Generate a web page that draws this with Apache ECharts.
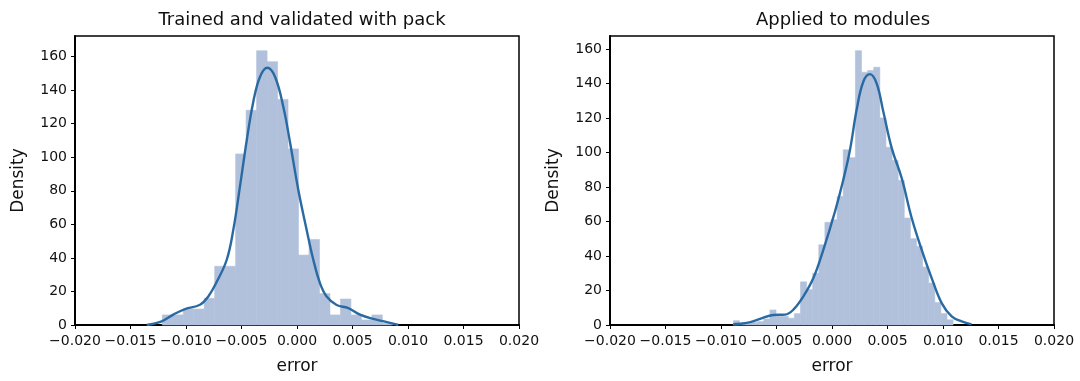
<!DOCTYPE html>
<html>
<head>
<meta charset="utf-8">
<script src="https://cdn.jsdelivr.net/npm/echarts@6/dist/echarts.min.js"></script>
<style>
html,body{margin:0;padding:0;background:#fff;}
#chart{width:1080px;height:381px;}
</style>
</head>
<body>
<div id="chart"></div>
<script>
// ---- Data ----
var titles = ['Trained and validated with pack', 'Applied to modules'];
var xTicks = [-0.020, -0.015, -0.010, -0.005, 0.000, 0.005, 0.010, 0.015, 0.020];

// Left panel histogram (bin start, bin width, densities)
var leftBinStart = -0.012135;
var leftBinWidth = 0.000944;
var leftDensity = [6, 6, 9.5, 9.5, 15.9, 35, 35, 102, 128, 163.5, 157, 134.5, 105, 41.7, 51, 18.7, 6, 15.5, 6, 3, 6, 1];

// Left panel KDE curve points [x, density]
var leftKdeX = [-0.01354, -0.01219, -0.01114, -0.01009, -0.00874, -0.00799, -0.00724, -0.00633, -0.00574, -0.00514, -0.00453, -0.00394, -0.00333, -0.00268, -0.00198, -0.00123, -0.00063, 0.00012, 0.00087, 0.00147, 0.00207, 0.00267, 0.00357, 0.00462, 0.00568, 0.00687, 0.00793, 0.00913];
var leftKdeY = [0, 2.2, 6.2, 9.5, 12.1, 17, 25.6, 38.9, 56.7, 82.5, 110, 133, 148, 153.4, 148, 130, 109, 80.5, 56.7, 38.9, 25, 17, 11.9, 10.1, 6.2, 3.6, 2, 0];

// Right panel histogram
var rightBinStart = -0.00889;
var rightBinWidth = 0.00055;
var rightDensity = [2.5, 0.5, 1, 1.5, 2, 3.5, 8.7, 5, 5, 3.9, 6.6, 25, 20.5, 30, 46.5, 59.5, 61, 74.5, 101.5, 97, 159, 146.5, 147.5, 149.4, 120, 103, 95.4, 83.8, 62, 50, 45.6, 33.6, 24.3, 13, 6.6, 3];

// Right panel KDE curve points
var rightKdeX = [-0.00889, -0.00769, -0.00649, -0.00529, -0.00423, -0.00348, -0.00258, -0.00168, -0.00078, 0.00027, 0.00102, 0.00162, 0.00222, 0.00282, 0.00342, 0.00402, 0.00462, 0.00538, 0.00628, 0.00718, 0.00808, 0.00898, 0.00988, 0.01078, 0.01168, 0.01258];
var rightKdeY = [0.4, 1.2, 3.5, 5.8, 6, 8.9, 16.6, 27.2, 43.6, 65.8, 84.2, 101.5, 124.7, 141, 145.4, 140, 123.7, 102.5, 85.1, 62, 43.6, 27.2, 12.7, 5, 2.1, 0.4];

var yMax = [172.3, 167.5];

// ---- Build chart ----
var HIST_COLOR = '#b1c1dc';
var LINE_COLOR = '#2a6aa3';
var FONT = 'DejaVu Sans';

function histData(start, width, vals) {
  return vals.map(function (v, i) {
    return [start + i * width, start + (i + 1) * width, v];
  });
}
function pairs(xs, ys) {
  return xs.map(function (x, i) { return [x, ys[i]]; });
}
function fmtX(v) {
  var a = Math.abs(v).toFixed(3);
  return (v < -1e-9 ? '\u2212' : '') + a;
}

var grids = [
  {left: 75, right: 561, top: 36, bottom: 56},
  {left: 610, right: 26, top: 36, bottom: 56}
];

var xAxes = [], yAxes = [], series = [], titleArr = [];
var centers = [297, 838];
[0, 1].forEach(function (k) {
  titleArr.push({
    text: titles[k], left: centers[k], top: 6, textAlign: 'center',
    textStyle: {fontFamily: FONT, fontSize: 18, fontWeight: 'normal', color: '#111'}
  });
  xAxes.push({
    type: 'value', gridIndex: k, min: -0.02, max: 0.02, interval: 0.005,
    name: 'error', nameLocation: 'middle', nameGap: 33,
    nameTextStyle: {fontFamily: FONT, fontSize: 17, color: '#111'},
    axisLine: {show: true, onZero: false, lineStyle: {color: '#000', width: 2}},
    axisTick: {show: true, length: 4, lineStyle: {color: '#000', width: 1}},
    axisLabel: {fontFamily: FONT, fontSize: 14, color: '#111', margin: 9,
      formatter: fmtX},
    splitLine: {show: false}
  });
  yAxes.push({
    type: 'value', gridIndex: k, min: 0, max: yMax[k], interval: 20,
    name: 'Density', nameLocation: 'middle', nameGap: 48,
    nameTextStyle: {fontFamily: FONT, fontSize: 17, color: '#111'},
    axisLine: {show: true, onZero: false, lineStyle: {color: '#000', width: 2}},
    axisTick: {show: true, length: 4, lineStyle: {color: '#000', width: 1}},
    axisLabel: {fontFamily: FONT, fontSize: 14, color: '#111', margin: 8,
      showMaxLabel: false,
      formatter: function (v) { return (Math.abs(v % 20) < 1e-6) ? String(Math.round(v)) : ''; }},
    splitLine: {show: false}
  });
});

[[leftBinStart, leftBinWidth, leftDensity, leftKdeX, leftKdeY],
 [rightBinStart, rightBinWidth, rightDensity, rightKdeX, rightKdeY]].forEach(function (p, k) {
  series.push({
    type: 'custom', xAxisIndex: k, yAxisIndex: k,
    data: histData(p[0], p[1], p[2]),
    renderItem: function (params, api) {
      var a = api.coord([api.value(0), 0]);
      var b = api.coord([api.value(1), api.value(2)]);
      return {
        type: 'rect',
        shape: {x: a[0], y: b[1], width: b[0] - a[0], height: a[1] - b[1]},
        style: {fill: HIST_COLOR, stroke: HIST_COLOR, lineWidth: 0.6}
      };
    },
    encode: {x: [0, 1], y: 2},
    z: 1, silent: true
  });
  series.push({
    type: 'line', xAxisIndex: k, yAxisIndex: k,
    data: pairs(p[3], p[4]), smooth: 0.4, symbol: 'none',
    lineStyle: {color: LINE_COLOR, width: 2.4},
    z: 3, silent: true
  });
});

var gridsOut = grids.map(function (g) {
  return Object.assign({show: true, borderColor: '#000', borderWidth: 1.5, backgroundColor: 'transparent'}, g);
});

var chart = echarts.init(document.getElementById('chart'), null, {renderer: 'canvas'});
chart.setOption({
  animation: false,
  backgroundColor: '#fff',
  title: titleArr,
  grid: gridsOut,
  xAxis: xAxes,
  yAxis: yAxes,
  series: series
});
</script>
</body>
</html>
